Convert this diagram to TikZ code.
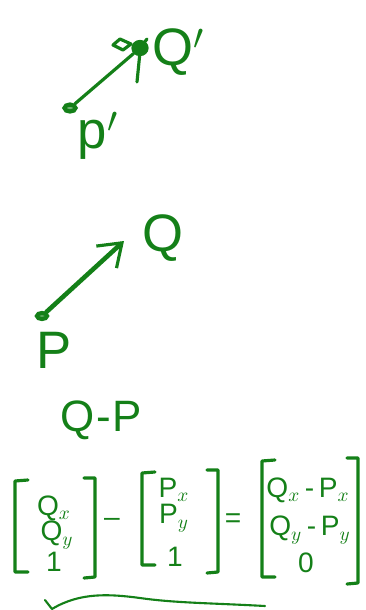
\documentclass[tikz,border=0pt]{standalone}
\usepackage{fontspec}
\setmainfont{Liberation Sans}
\definecolor{InkGreen}{RGB}{20,128,24}
\usetikzlibrary{arrows.meta,shapes.geometric}

\begin{document}
\begin{tikzpicture}[x=0.02cm, y=-0.02cm,
      every node/.style={text=InkGreen, inner sep=1pt},
      big/.style={font=\fontsize{30}{30}\selectfont},
      mid/.style={font=\fontsize{25}{25}\selectfont},
      entry/.style={font=\fontsize{16}{16}\selectfont},
      ink/.style={draw=InkGreen, line width=1.8pt, line cap=round, line join=round},
      dot/.style={ellipse, draw=InkGreen, line width=2.4pt, fill=InkGreen!60,
                  minimum width=0.22cm, minimum height=0.14cm, inner sep=0pt},
      arr/.style={ink, line width=2.6pt, -{Straight Barb[length=12pt, width=17pt, line width=1.8pt]}}
  ]
    \useasboundingbox (0,0) rectangle (366,610);

    \node[dot] (pp) at (70,108) {};
    \node[dot, fill=InkGreen, minimum width=0.26cm, minimum height=0.24cm] (qq) at (140,48) {};
    \draw[ink] (pp) -- (qq) -- (147,39);
    \draw[ink] (113,45) -- (120,39) -- (131,44) -- (123,50) -- cycle;
    \draw[ink] (140,52) -- (137,82);
    \node[big, anchor=west] (qqlabel) at (150,52) {Q$'$};
    \node[big] (pplabel) at (98,136) {p$'$};

    \node[dot, minimum width=0.2cm, minimum height=0.12cm] (p) at (42,316) {};
    \coordinate (qtip) at (124,241);
    \draw[arr] (p) -- (qtip);
    \node[big] (q) at (163,238) {Q};
    \node[big] (plabel) at (54,350) {P};

    \node[mid] (diff) at (101,420) {Q{\kern1pt-\kern1pt}P};

    \foreach \xl/\xr/\yt/\ybl/\ybr in {15/95/478/572/577, 142/218/470/565/572, 262/358/458/577/583} {
      \draw[ink] (\xl+13,\yt+2) -- (\xl,\yt+3) -- (\xl,\ybl) -- (\xl+13,\ybl);
      \draw[ink] (\xr-11,\yt) -- (\xr,\yt) -- (\xr,\ybr) -- (\xr-11,\ybr+1);
    }
    \node[entry] (qx) at (54,508) {Q$_x$};
    \node[entry] (qy) at (57,535) {Q$_y$};
    \node[entry] (qo) at (54,562) {1};
    \node[entry] (px) at (174,490) {P$_x$};
    \node[entry] (py) at (174,518) {P$_y$};
    \node[entry] (po) at (175,557) {1};
    \node[entry] (rx) at (308,490) {Q$_x$\,-\,P$_x$};
    \node[entry] (ry) at (310,530) {Q$_y$\,-\,P$_y$};
    \node[entry] (ro) at (306,563) {0};
    \node[entry] (minus) at (112,522) {\textendash};
    \node[entry] (equals) at (233,521) {=};

    \draw[ink, line width=1.2pt] (45,600) -- (52,609) .. controls (80,592) and (110,594) .. (140,598)
      .. controls (175,603) and (210,603) .. (265,606);
  \end{tikzpicture}
\end{document}
